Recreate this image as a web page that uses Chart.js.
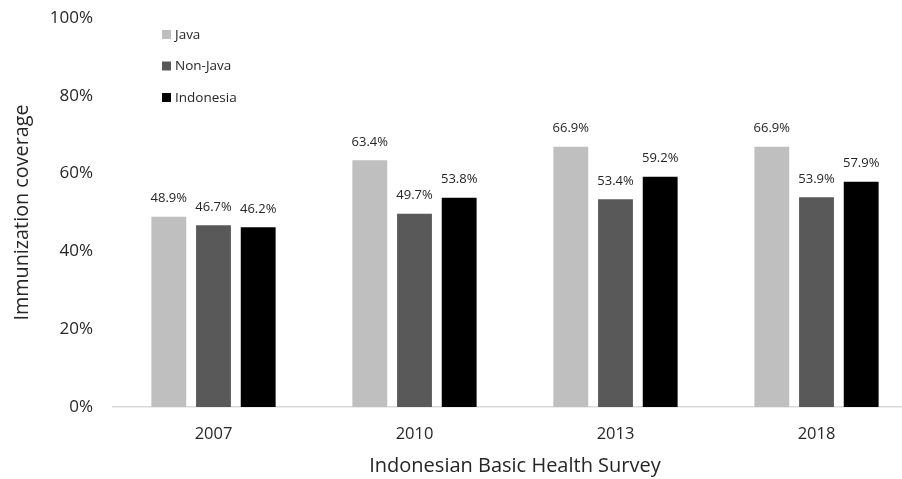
<!DOCTYPE html>
<html>
<head>
<meta charset="utf-8">
<script src="https://cdn.jsdelivr.net/npm/chart.js@4/dist/chart.umd.min.js"></script>
<style>
  html, body { margin: 0; padding: 0; background: #fff; overflow: hidden; }
  #wrap { width: 917px; height: 479px; }
</style>
</head>
<body>
<div id="wrap"><canvas id="myChart" width="917" height="479"></canvas></div>
<script>
const years = ['2007', '2010', '2013', '2018'];
const java = [48.9, 63.4, 66.9, 66.9];
const nonJava = [46.7, 49.7, 53.4, 53.9];
const indonesia = [46.2, 53.8, 59.2, 57.9];
const yTicks = [0, 20, 40, 60, 80, 100];

const FONT = '"Open Sans", Lato, "Liberation Sans", sans-serif';
const TEXT = '#262626';

// data labels above each bar
const barLabels = {
  id: 'barLabels',
  afterDatasetsDraw(chart) {
    const ctx = chart.ctx;
    ctx.save();
    ctx.font = '13px ' + FONT;
    ctx.fillStyle = TEXT;
    ctx.textAlign = 'center';
    ctx.textBaseline = 'alphabetic';
    chart.data.datasets.forEach((ds, i) => {
      chart.getDatasetMeta(i).data.forEach((bar, j) => {
        ctx.fillText(ds.data[j].toFixed(1) + '%', bar.x, bar.y - 14.5);
      });
    });
    ctx.restore();
  }
};

// legend stacked inside the plot, top left
const insideLegend = {
  id: 'insideLegend',
  afterDraw(chart) {
    const ctx = chart.ctx;
    const area = chart.chartArea;
    ctx.save();
    ctx.font = '13.5px ' + FONT;
    ctx.textBaseline = 'middle';
    chart.data.datasets.forEach((ds, i) => {
      const y = area.top + 16.5 + i * 31.5;
      ctx.fillStyle = ds.backgroundColor;
      ctx.fillRect(area.left + 49, y - 4.5, 9, 9);
      ctx.fillStyle = TEXT;
      ctx.fillText(ds.label, area.left + 62, y + 0.5);
    });
    ctx.restore();
  }
};

const commonBar = { barPercentage: 0.78, categoryPercentage: 0.667, borderWidth: 0 };

new Chart(document.getElementById('myChart').getContext('2d'), {
  type: 'bar',
  data: {
    labels: years,
    datasets: [
      { label: 'Java', data: java, backgroundColor: '#bfbfbf', ...commonBar },
      { label: 'Non-Java', data: nonJava, backgroundColor: '#595959', ...commonBar },
      { label: 'Indonesia', data: indonesia, backgroundColor: '#000000', ...commonBar }
    ]
  },
  options: {
    responsive: false,
    animation: false,
    layout: { padding: { top: 18, left: 0, right: 0, bottom: 0 } },
    plugins: {
      legend: { display: false },
      tooltip: { enabled: false }
    },
    scales: {
      x: {
        grid: { display: false, drawTicks: false },
        border: { display: true, color: '#d9d9d9', width: 1.5 },
        ticks: { color: TEXT, font: { family: FONT, size: 16.5 }, padding: 17 },
        title: {
          display: true,
          text: 'Indonesian Basic Health Survey',
          color: TEXT,
          font: { family: FONT, size: 20 },
          padding: { top: 0, bottom: 1 }
        },
        afterFit(scale) { scale.height = 72; }
      },
      y: {
        min: 0,
        max: 100,
        grid: { display: false, drawTicks: false },
        border: { display: false },
        afterBuildTicks(scale) { scale.ticks = yTicks.map(v => ({ value: v })); },
        ticks: {
          color: TEXT,
          font: { family: FONT, size: 17 },
          padding: 20,
          callback: v => v + '%'
        },
        title: {
          display: true,
          text: 'Immunization coverage',
          color: TEXT,
          font: { family: FONT, size: 19.8 },
          padding: { top: 10, bottom: 0 }
        },
        afterFit(scale) {
          scale.width = 113;
          scale.paddingTop = 0;
          scale.paddingBottom = 0;
        }
      }
    }
  },
  plugins: [barLabels, insideLegend]
});
</script>
</body>
</html>
